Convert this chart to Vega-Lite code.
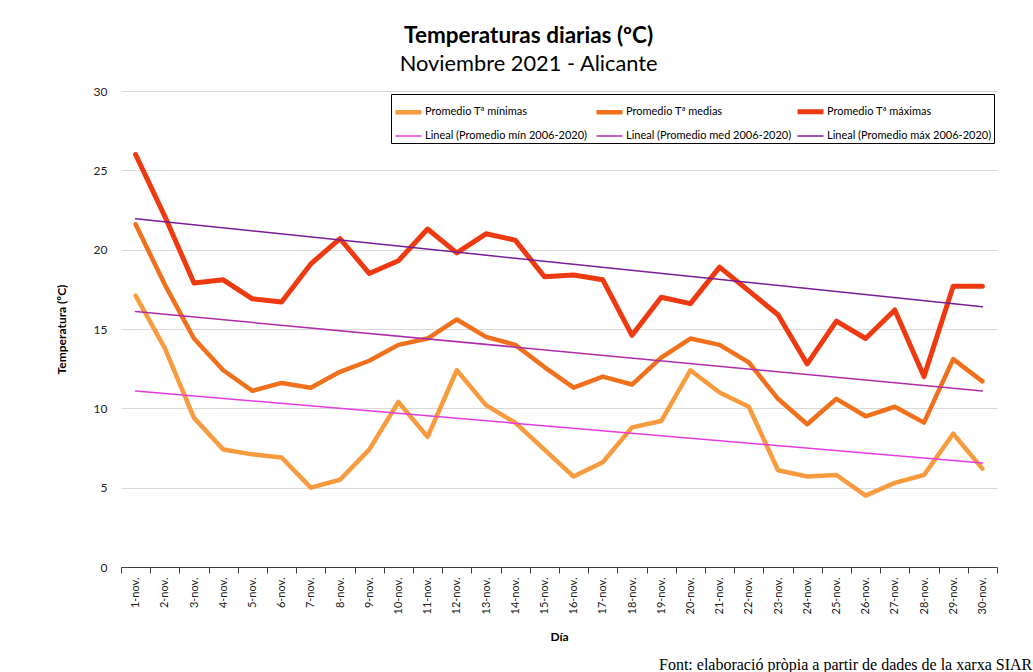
{
  "$schema": "https://vega.github.io/schema/vega-lite/v6.json",
  "autosize": {"type": "pad"},
  "padding": {"left": 55, "top": 24, "right": 0, "bottom": 0},
  "background": "white",
  "title": {
    "text": "Temperaturas diarias (ºC)",
    "subtitle": "Noviembre 2021 - Alicante",
    "anchor": "middle",
    "frame": "bounds",
    "dx": -15,
    "font": "Lato",
    "fontSize": 22.5,
    "fontWeight": "bold",
    "color": "#000000",
    "subtitleFont": "Lato",
    "subtitleFontSize": 21.8,
    "subtitleColor": "#000000",
    "subtitlePadding": 7,
    "offset": 9
  },
  "config": {
    "font": "Lato",
    "view": {"stroke": null},
    "concat": {"spacing": 0}
  },
  "vconcat": [
    {
      "width": 876,
      "height": 476,
      "title": {
        "text": "Font: elaboració pròpia a partir de dades de la xarxa SIAR",
        "orient": "bottom",
        "anchor": "start",
        "frame": "group",
        "dx": 538,
        "offset": 14,
        "font": "Liberation Serif",
        "fontSize": 16,
        "fontWeight": "normal",
        "color": "#000000"
      },
      "data": {
        "values": [
          {"dia": "1-nov.", "serie": "Promedio Tª mínimas", "t": 17.1},
          {"dia": "2-nov.", "serie": "Promedio Tª mínimas", "t": 13.8},
          {"dia": "3-nov.", "serie": "Promedio Tª mínimas", "t": 9.4},
          {"dia": "4-nov.", "serie": "Promedio Tª mínimas", "t": 7.4},
          {"dia": "5-nov.", "serie": "Promedio Tª mínimas", "t": 7.1},
          {"dia": "6-nov.", "serie": "Promedio Tª mínimas", "t": 6.9},
          {"dia": "7-nov.", "serie": "Promedio Tª mínimas", "t": 5.0},
          {"dia": "8-nov.", "serie": "Promedio Tª mínimas", "t": 5.5},
          {"dia": "9-nov.", "serie": "Promedio Tª mínimas", "t": 7.4},
          {"dia": "10-nov.", "serie": "Promedio Tª mínimas", "t": 10.4},
          {"dia": "11-nov.", "serie": "Promedio Tª mínimas", "t": 8.2},
          {"dia": "12-nov.", "serie": "Promedio Tª mínimas", "t": 12.4},
          {"dia": "13-nov.", "serie": "Promedio Tª mínimas", "t": 10.2},
          {"dia": "14-nov.", "serie": "Promedio Tª mínimas", "t": 9.1},
          {"dia": "15-nov.", "serie": "Promedio Tª mínimas", "t": 7.4},
          {"dia": "16-nov.", "serie": "Promedio Tª mínimas", "t": 5.7},
          {"dia": "17-nov.", "serie": "Promedio Tª mínimas", "t": 6.6},
          {"dia": "18-nov.", "serie": "Promedio Tª mínimas", "t": 8.8},
          {"dia": "19-nov.", "serie": "Promedio Tª mínimas", "t": 9.2},
          {"dia": "20-nov.", "serie": "Promedio Tª mínimas", "t": 12.4},
          {"dia": "21-nov.", "serie": "Promedio Tª mínimas", "t": 11.0},
          {"dia": "22-nov.", "serie": "Promedio Tª mínimas", "t": 10.1},
          {"dia": "23-nov.", "serie": "Promedio Tª mínimas", "t": 6.1},
          {"dia": "24-nov.", "serie": "Promedio Tª mínimas", "t": 5.7},
          {"dia": "25-nov.", "serie": "Promedio Tª mínimas", "t": 5.8},
          {"dia": "26-nov.", "serie": "Promedio Tª mínimas", "t": 4.5},
          {"dia": "27-nov.", "serie": "Promedio Tª mínimas", "t": 5.3},
          {"dia": "28-nov.", "serie": "Promedio Tª mínimas", "t": 5.8},
          {"dia": "29-nov.", "serie": "Promedio Tª mínimas", "t": 8.4},
          {"dia": "30-nov.", "serie": "Promedio Tª mínimas", "t": 6.2},

          {"dia": "1-nov.", "serie": "Promedio Tª medias", "t": 21.6},
          {"dia": "2-nov.", "serie": "Promedio Tª medias", "t": 17.8},
          {"dia": "3-nov.", "serie": "Promedio Tª medias", "t": 14.4},
          {"dia": "4-nov.", "serie": "Promedio Tª medias", "t": 12.4},
          {"dia": "5-nov.", "serie": "Promedio Tª medias", "t": 11.1},
          {"dia": "6-nov.", "serie": "Promedio Tª medias", "t": 11.6},
          {"dia": "7-nov.", "serie": "Promedio Tª medias", "t": 11.3},
          {"dia": "8-nov.", "serie": "Promedio Tª medias", "t": 12.3},
          {"dia": "9-nov.", "serie": "Promedio Tª medias", "t": 13.0},
          {"dia": "10-nov.", "serie": "Promedio Tª medias", "t": 14.0},
          {"dia": "11-nov.", "serie": "Promedio Tª medias", "t": 14.4},
          {"dia": "12-nov.", "serie": "Promedio Tª medias", "t": 15.6},
          {"dia": "13-nov.", "serie": "Promedio Tª medias", "t": 14.5},
          {"dia": "14-nov.", "serie": "Promedio Tª medias", "t": 14.0},
          {"dia": "15-nov.", "serie": "Promedio Tª medias", "t": 12.6},
          {"dia": "16-nov.", "serie": "Promedio Tª medias", "t": 11.3},
          {"dia": "17-nov.", "serie": "Promedio Tª medias", "t": 12.0},
          {"dia": "18-nov.", "serie": "Promedio Tª medias", "t": 11.5},
          {"dia": "19-nov.", "serie": "Promedio Tª medias", "t": 13.2},
          {"dia": "20-nov.", "serie": "Promedio Tª medias", "t": 14.4},
          {"dia": "21-nov.", "serie": "Promedio Tª medias", "t": 14.0},
          {"dia": "22-nov.", "serie": "Promedio Tª medias", "t": 12.9},
          {"dia": "23-nov.", "serie": "Promedio Tª medias", "t": 10.6},
          {"dia": "24-nov.", "serie": "Promedio Tª medias", "t": 9.0},
          {"dia": "25-nov.", "serie": "Promedio Tª medias", "t": 10.6},
          {"dia": "26-nov.", "serie": "Promedio Tª medias", "t": 9.5},
          {"dia": "27-nov.", "serie": "Promedio Tª medias", "t": 10.1},
          {"dia": "28-nov.", "serie": "Promedio Tª medias", "t": 9.1},
          {"dia": "29-nov.", "serie": "Promedio Tª medias", "t": 13.1},
          {"dia": "30-nov.", "serie": "Promedio Tª medias", "t": 11.7},

          {"dia": "1-nov.", "serie": "Promedio Tª máximas", "t": 26.0},
          {"dia": "2-nov.", "serie": "Promedio Tª máximas", "t": 22.1},
          {"dia": "3-nov.", "serie": "Promedio Tª máximas", "t": 17.9},
          {"dia": "4-nov.", "serie": "Promedio Tª máximas", "t": 18.1},
          {"dia": "5-nov.", "serie": "Promedio Tª máximas", "t": 16.9},
          {"dia": "6-nov.", "serie": "Promedio Tª máximas", "t": 16.7},
          {"dia": "7-nov.", "serie": "Promedio Tª máximas", "t": 19.1},
          {"dia": "8-nov.", "serie": "Promedio Tª máximas", "t": 20.7},
          {"dia": "9-nov.", "serie": "Promedio Tª máximas", "t": 18.5},
          {"dia": "10-nov.", "serie": "Promedio Tª máximas", "t": 19.3},
          {"dia": "11-nov.", "serie": "Promedio Tª máximas", "t": 21.3},
          {"dia": "12-nov.", "serie": "Promedio Tª máximas", "t": 19.8},
          {"dia": "13-nov.", "serie": "Promedio Tª máximas", "t": 21.0},
          {"dia": "14-nov.", "serie": "Promedio Tª máximas", "t": 20.6},
          {"dia": "15-nov.", "serie": "Promedio Tª máximas", "t": 18.3},
          {"dia": "16-nov.", "serie": "Promedio Tª máximas", "t": 18.4},
          {"dia": "17-nov.", "serie": "Promedio Tª máximas", "t": 18.1},
          {"dia": "18-nov.", "serie": "Promedio Tª máximas", "t": 14.6},
          {"dia": "19-nov.", "serie": "Promedio Tª máximas", "t": 17.0},
          {"dia": "20-nov.", "serie": "Promedio Tª máximas", "t": 16.6},
          {"dia": "21-nov.", "serie": "Promedio Tª máximas", "t": 18.9},
          {"dia": "22-nov.", "serie": "Promedio Tª máximas", "t": 17.4},
          {"dia": "23-nov.", "serie": "Promedio Tª máximas", "t": 15.9},
          {"dia": "24-nov.", "serie": "Promedio Tª máximas", "t": 12.8},
          {"dia": "25-nov.", "serie": "Promedio Tª máximas", "t": 15.5},
          {"dia": "26-nov.", "serie": "Promedio Tª máximas", "t": 14.4},
          {"dia": "27-nov.", "serie": "Promedio Tª máximas", "t": 16.2},
          {"dia": "28-nov.", "serie": "Promedio Tª máximas", "t": 12.0},
          {"dia": "29-nov.", "serie": "Promedio Tª máximas", "t": 17.7},
          {"dia": "30-nov.", "serie": "Promedio Tª máximas", "t": 17.7},

          {"dia": "1-nov.", "serie": "Lineal (Promedio mín 2006-2020)", "t": 11.1},
          {"dia": "30-nov.", "serie": "Lineal (Promedio mín 2006-2020)", "t": 6.55},
          {"dia": "1-nov.", "serie": "Lineal (Promedio med 2006-2020)", "t": 16.1},
          {"dia": "30-nov.", "serie": "Lineal (Promedio med 2006-2020)", "t": 11.1},
          {"dia": "1-nov.", "serie": "Lineal (Promedio máx 2006-2020)", "t": 21.95},
          {"dia": "30-nov.", "serie": "Lineal (Promedio máx 2006-2020)", "t": 16.4}
        ]
      },
      "mark": {"type": "line", "strokeJoin": "round", "strokeCap": "round"},
      "encoding": {
        "x": {
          "field": "dia",
          "type": "ordinal",
          "sort": null,
          "bandPosition": 0.5,
          "scale": {"type": "band", "paddingInner": 0, "paddingOuter": 0},
          "axis": {
            "title": "Día",
            "labelAngle": -90,
            "labelFontSize": 11,
            "labelColor": "#222222",
            "labelPadding": 4,
            "tickBand": "extent",
            "tickSize": 6,
            "tickColor": "#404040",
            "domainColor": "#404040",
            "grid": false,
            "titleFontSize": 12,
            "titleFontWeight": "bold",
            "titleColor": "#000000",
            "titlePadding": 18
          }
        },
        "y": {
          "field": "t",
          "type": "quantitative",
          "scale": {"domain": [0, 30]},
          "axis": {
            "title": "Temperatura (ºC)",
            "values": [0, 5, 10, 15, 20, 25, 30],
            "domain": false,
            "ticks": false,
            "labelPadding": 14,
            "labelFontSize": 12,
            "labelColor": "#222222",
            "gridColor": "#d9d9d9",
            "titleFontSize": 12,
            "titleFontWeight": "bold",
            "titleColor": "#000000",
            "titlePadding": 25
          }
        },
        "color": {
          "field": "serie",
          "type": "nominal",
          "scale": {
            "domain": ["Promedio Tª mínimas", "Promedio Tª medias", "Promedio Tª máximas", "Lineal (Promedio mín 2006-2020)", "Lineal (Promedio med 2006-2020)", "Lineal (Promedio máx 2006-2020)"],
            "range": ["#F89A3E", "#F0701C", "#EE3A10", "#E43CE0", "#B02CA8", "#7A1C98"]
          },
          "legend": {
            "orient": "none",
            "legendX": 270,
            "legendY": 3,
            "columns": 3,
            "direction": "horizontal",
            "title": null,
            "symbolType": "stroke",
            "symbolSize": 676,
            "symbolStrokeWidth": 4,
            "labelFont": "Lato",
            "labelFontSize": 11,
            "labelColor": "#000000",
            "labelOffset": 1,
            "labelLimit": 300,
            "strokeColor": "#000000",
            "padding": 2,
            "rowPadding": -6,
            "columnPadding": -5,
            "gridAlign": "all",
            "encode": {
              "symbols": {"update": {"strokeWidth": {"signal": "indexof(datum.value, 'Lineal') === 0 ? 1.5 : 5"}}}
            }
          }
        },
        "strokeWidth": {
          "field": "serie",
          "type": "nominal",
          "scale": {
            "type": "ordinal",
            "domain": ["Promedio Tª mínimas", "Promedio Tª medias", "Promedio Tª máximas", "Lineal (Promedio mín 2006-2020)", "Lineal (Promedio med 2006-2020)", "Lineal (Promedio máx 2006-2020)"],
            "range": [4.5, 4.5, 5, 1.5, 1.5, 1.5]
          },
          "legend": null
        }
      }
    }
  ]
}
